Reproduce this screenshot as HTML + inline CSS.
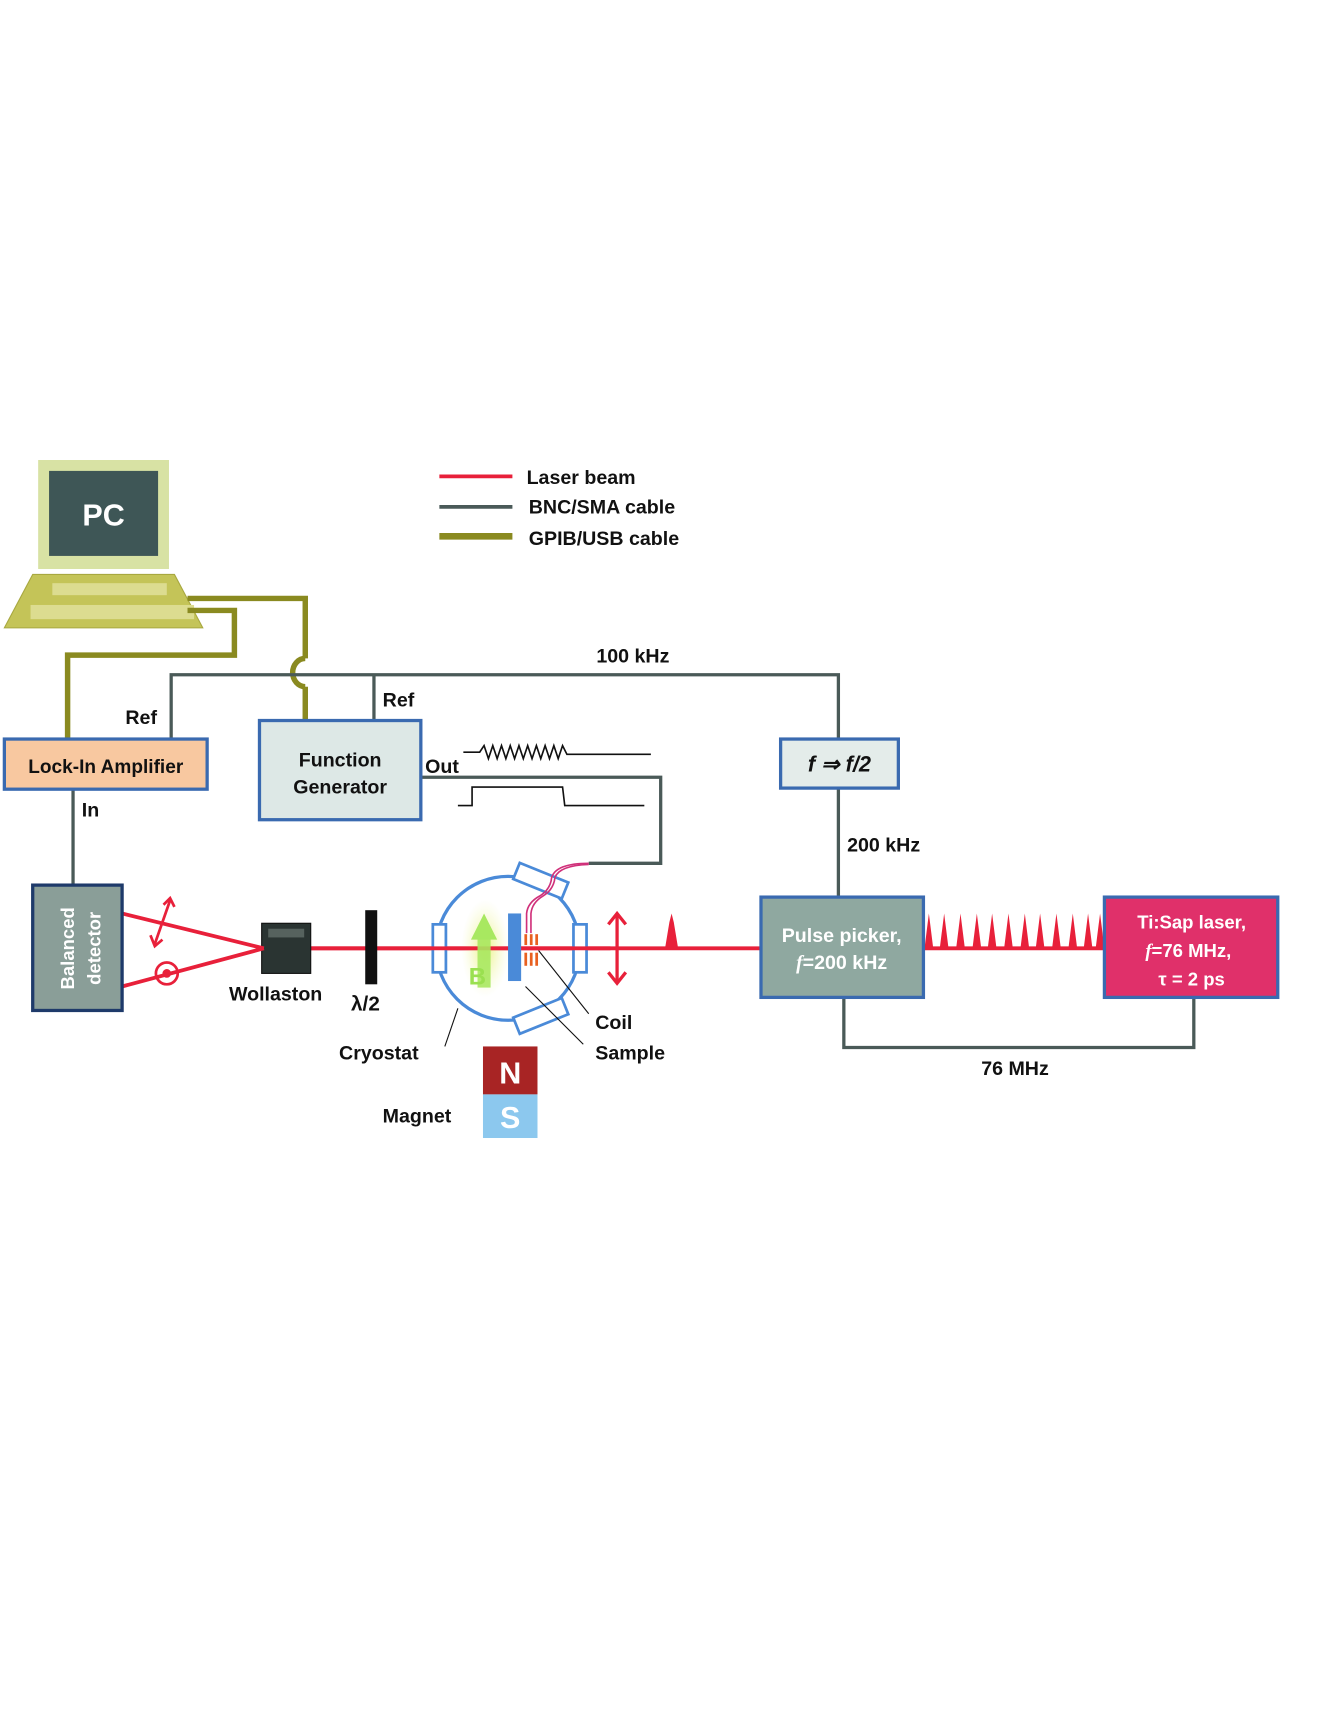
<!DOCTYPE html>
<html><head><meta charset="utf-8"><style>
html,body{margin:0;padding:0;background:#fff;}
svg{display:block;}
text{font-family:"Liberation Sans",sans-serif;font-weight:bold;}
</style></head><body>
<svg width="1329" height="1719" viewBox="0 0 1219 1577" preserveAspectRatio="none" xmlns="http://www.w3.org/2000/svg">
<defs>
<radialGradient id="glow" cx="50%" cy="50%" r="50%"><stop offset="0" stop-color="#e8f070" stop-opacity="0.9"/><stop offset="1" stop-color="#f4f8c0" stop-opacity="0"/></radialGradient>
</defs>
<!-- Legend -->
<line x1="403" y1="437" x2="470" y2="437" stroke="#e8203a" stroke-width="3.5"/>
<line x1="403" y1="465" x2="470" y2="465" stroke="#4a5a58" stroke-width="3.5"/>
<line x1="403" y1="492" x2="470" y2="492" stroke="#8a8a20" stroke-width="6"/>
<text x="483" y="444" font-size="18" fill="#111">Laser beam</text>
<text x="485" y="471" font-size="18" fill="#111">BNC/SMA cable</text>
<text x="485" y="500" font-size="18" fill="#111">GPIB/USB cable</text>

<!-- PC -->
<rect x="35" y="422" width="120" height="100" fill="#d8e2a4"/>
<rect x="45" y="432" width="100" height="78" fill="#3e5656"/>
<text x="95" y="482" font-size="28" fill="#fff" text-anchor="middle" font-weight="normal">PC</text>
<polygon points="30,527 160,527 186,576 4,576" fill="#c4c458" stroke="#a8a840" stroke-width="1"/>
<rect x="48" y="535" width="105" height="11" fill="#dcdc90"/>
<rect x="28" y="555" width="150" height="13" fill="#dcdc90"/>

<!-- GPIB cables -->
<g fill="none" stroke="#8a8a20" stroke-width="5">
<polyline points="172,549 280,549 280,604"/>
<path d="M280,604 A8,9 0 0 0 280,630"/>
<polyline points="280,630 280,661"/>
<polyline points="172,560 215,560 215,601 62,601 62,678"/>
</g>

<!-- BNC lines -->
<g fill="none" stroke="#4a5a58" stroke-width="3">
<polyline points="157,678 157,619 769,619 769,678"/>
<line x1="343" y1="619" x2="343" y2="661"/>
<line x1="67" y1="724" x2="67" y2="812"/>
<line x1="769" y1="723" x2="769" y2="823"/>
<polyline points="386,713 606,713 606,792 540,792"/>
<polyline points="774,915 774,961 1095,961 1095,915"/>
</g>
<text x="547" y="608" font-size="18" fill="#111">100 kHz</text>
<text x="115" y="664" font-size="18" fill="#111">Ref</text>
<text x="351" y="648" font-size="18" fill="#111">Ref</text>
<text x="75" y="749" font-size="18" fill="#111">In</text>
<text x="390" y="709" font-size="18" fill="#111">Out</text>
<text x="777" y="781" font-size="18" fill="#111">200 kHz</text>
<text x="900" y="986" font-size="18" fill="#111">76 MHz</text>

<!-- Lock-in -->
<rect x="4" y="678" width="186" height="46" fill="#f8c8a0" stroke="#3a6ab0" stroke-width="3"/>
<text x="97" y="709" font-size="17.5" fill="#111" text-anchor="middle">Lock-In Amplifier</text>

<!-- Function generator -->
<rect x="238" y="661" width="148" height="91" fill="#dde8e6" stroke="#3a6ab0" stroke-width="3"/>
<text x="312" y="703" font-size="18" fill="#111" text-anchor="middle">Function</text>
<text x="312" y="728" font-size="18" fill="#111" text-anchor="middle">Generator</text>

<!-- waveforms -->
<polyline fill="none" stroke="#111" stroke-width="1.5" points="425,690 440,690 444,684 448,696 452,684 456,696 460,684 464,696 468,684 472,696 476,684 480,696 484,684 488,696 492,684 496,696 500,684 504,696 508,684 512,696 516,684 520,692 597,692"/>
<polyline fill="none" stroke="#111" stroke-width="1.5" points="420,739 433,739 433,722 516,722 518,739 591,739"/>

<!-- f/2 -->
<rect x="716" y="678" width="108" height="45" fill="#e4ecea" stroke="#3a6ab0" stroke-width="3"/>
<text x="770" y="708" font-size="20" fill="#111" text-anchor="middle" font-family="Liberation Serif" font-style="italic">f ⇒ f/2</text>

<!-- laser beam -->
<line x1="285" y1="870" x2="698" y2="870" stroke="#e8203a" stroke-width="3.5"/>
<polygon points="610,870 614,846 616,838 618,846 622,870" fill="#e8203a"/>
<!-- pulses train -->
<line x1="847" y1="870" x2="1013" y2="870" stroke="#e8203a" stroke-width="3.5"/>
<g fill="#e8203a">
<polygon points="848,870 852,838 856,870"/><polygon points="862,870 866,838 870,870"/>
<polygon points="877,870 881,838 885,870"/><polygon points="892,870 896,838 900,870"/>
<polygon points="906,870 910,838 914,870"/><polygon points="921,870 925,838 929,870"/>
<polygon points="936,870 940,838 944,870"/><polygon points="950,870 954,838 958,870"/>
<polygon points="965,870 969,838 973,870"/><polygon points="980,870 984,838 988,870"/>
<polygon points="994,870 998,838 1002,870"/><polygon points="1005,870 1009,838 1013,870"/>
</g>

<!-- Pulse picker -->
<rect x="698" y="823" width="149" height="92" fill="#8fa8a0" stroke="#3a6ab0" stroke-width="3"/>
<text x="772" y="864" font-size="18" fill="#fff" text-anchor="middle">Pulse picker,</text>
<text x="772" y="889" font-size="18" fill="#fff" text-anchor="middle"><tspan font-style="italic" font-family="Liberation Serif">f</tspan>=200 kHz</text>
<!-- Ti:Sap -->
<rect x="1013" y="823" width="159" height="92" fill="#e0306a" stroke="#3a6ab0" stroke-width="3"/>
<text x="1093" y="852" font-size="17" fill="#fff" text-anchor="middle">Ti:Sap laser,</text>
<text x="1090" y="878" font-size="17" fill="#fff" text-anchor="middle"><tspan font-style="italic" font-family="Liberation Serif">f</tspan>=76 MHz,</text>
<text x="1093" y="904" font-size="17" fill="#fff" text-anchor="middle">τ = 2 ps</text>

<!-- lens arrow -->
<g stroke="#e8203a" stroke-width="3" fill="none">
<line x1="566" y1="840" x2="566" y2="900"/>
<polyline points="558,848 566,838 574,848"/>
<polyline points="558,892 566,902 574,892"/>
</g>

<!-- Cryostat -->
<ellipse cx="445" cy="870" rx="22" ry="45" fill="url(#glow)"/>
<circle cx="466" cy="870" r="66" fill="none" stroke="#4a8ad8" stroke-width="3"/>
<g transform="rotate(22 496 808)"><rect x="472" y="800" width="48" height="16" fill="#fff" stroke="#4a8ad8" stroke-width="2.5"/></g>
<g transform="rotate(-22 496 932)"><rect x="472" y="924" width="48" height="16" fill="#fff" stroke="#4a8ad8" stroke-width="2.5"/></g>
<rect x="397" y="848" width="12" height="44" fill="#fff" stroke="#4a8ad8" stroke-width="2.5"/>
<rect x="526" y="848" width="12" height="44" fill="#fff" stroke="#4a8ad8" stroke-width="2.5"/>
<line x1="285" y1="870" x2="560" y2="870" stroke="#e8203a" stroke-width="3.5"/>
<rect x="438" y="860" width="12" height="46" fill="#a8e860" opacity="0.9"/>
<polygon points="432,862 444,838 456,862" fill="#a8e860"/>
<text x="430" y="903" font-size="22" fill="#9ae050">B</text>
<rect x="466" y="838" width="12" height="62" fill="#4a8ad8"/>
<g fill="#e86020"><rect x="481" y="857" width="2.5" height="10"/><rect x="486" y="857" width="2.5" height="10"/><rect x="491" y="857" width="2.5" height="10"/>
<rect x="481" y="874" width="2.5" height="12"/><rect x="486" y="874" width="2.5" height="12"/><rect x="491" y="874" width="2.5" height="12"/></g>
<g fill="none" stroke="#d0307a" stroke-width="1.5">
<path d="M483,856 L483,838 Q484,828 495,822 Q505,816 506,805 Q510,792 540,792"/>
<path d="M487,856 L487,838 Q488,828 498,822 Q508,816 509,805 Q513,794 540,793"/>
</g>
<g stroke="#111" stroke-width="1">
<line x1="494" y1="872" x2="540" y2="930"/>
<line x1="482" y1="905" x2="535" y2="958"/>
<line x1="420" y1="925" x2="408" y2="960"/>
</g>
<text x="546" y="944" font-size="18" fill="#111">Coil</text>
<text x="546" y="972" font-size="18" fill="#111">Sample</text>
<text x="311" y="972" font-size="18" fill="#111">Cryostat</text>
<text x="351" y="1030" font-size="18" fill="#111">Magnet</text>
<rect x="443" y="960" width="50" height="44" fill="#a82424"/>
<rect x="443" y="1004" width="50" height="40" fill="#8cc8ee"/>
<text x="468" y="994" font-size="28" fill="#fff" text-anchor="middle" font-weight="normal">N</text>
<text x="468" y="1035" font-size="28" fill="#fff" text-anchor="middle" font-weight="normal">S</text>

<!-- lambda/2 -->
<rect x="335" y="835" width="11" height="68" fill="#111"/>
<text x="322" y="927" font-size="19" fill="#111">λ/2</text>
<!-- Wollaston -->
<rect x="240" y="847" width="45" height="46" fill="#2a3432" stroke="#111" stroke-width="1"/>
<rect x="246" y="852" width="33" height="8" fill="#56625e"/>
<text x="210" y="918" font-size="18" fill="#111">Wollaston</text>

<!-- split beams -->
<g stroke="#e8203a" stroke-width="3.5" fill="none">
<line x1="242" y1="870" x2="112" y2="838"/>
<line x1="242" y1="870" x2="112" y2="905"/>
</g>
<g stroke="#e8203a" stroke-width="2.5" fill="none">
<line x1="156" y1="826" x2="142" y2="866"/>
<polyline points="150,830 156,824 160,832"/>
<polyline points="138,858 142,868 149,862"/>
<circle cx="153" cy="893" r="10"/>
</g>
<circle cx="153" cy="893" r="4" fill="#e8203a"/>

<!-- Balanced detector -->
<rect x="30" y="812" width="82" height="115" fill="#8a9e98" stroke="#1e3a6a" stroke-width="3"/>
<text transform="translate(68,870) rotate(-90)" font-size="17" fill="#fff" text-anchor="middle">Balanced</text>
<text transform="translate(92,870) rotate(-90)" font-size="17" fill="#fff" text-anchor="middle">detector</text>
</svg>
</body></html>
